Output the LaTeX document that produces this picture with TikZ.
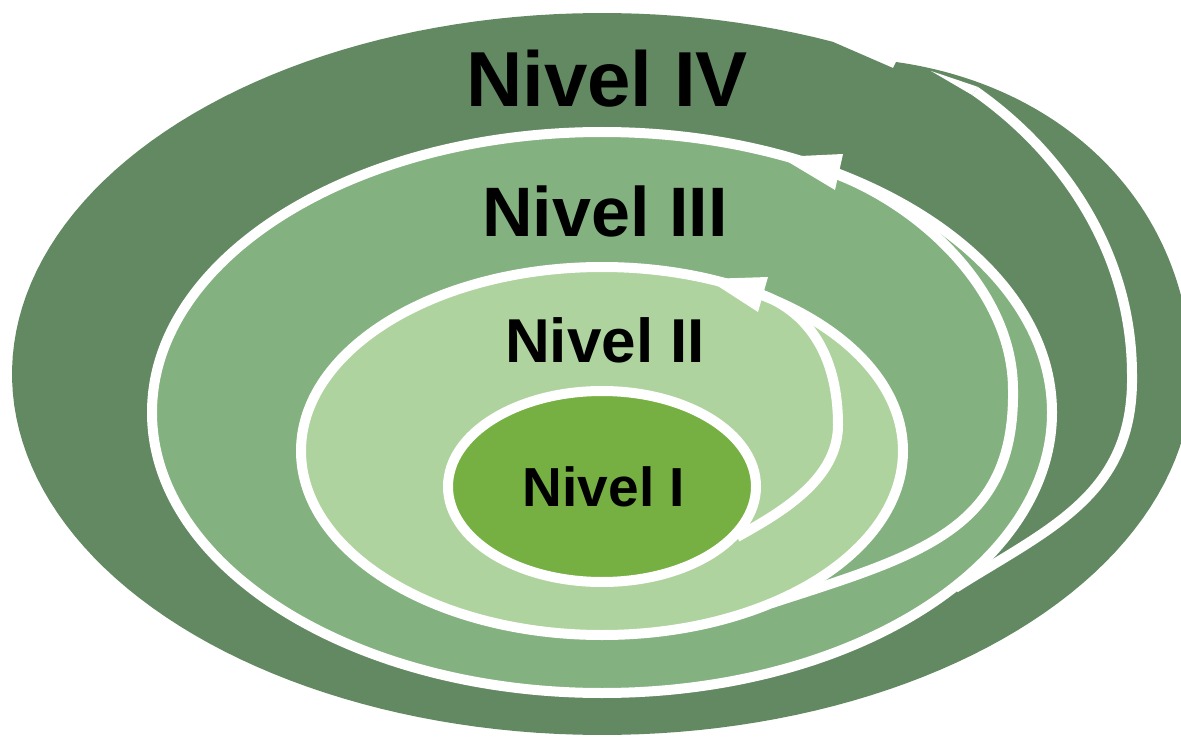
\documentclass[tikz,border=0pt]{standalone}
\usepackage{fontspec}
\setmainfont{Liberation Sans}
\definecolor{cfour}{HTML}{638962}
\definecolor{cthree}{HTML}{83B180}
\definecolor{ctwo}{HTML}{AFD39E}
\definecolor{cone}{HTML}{76AF42}
\tikzset{
  arcline/.style={draw=white, line width=10pt},
  ring/.style={draw=white, line width=10pt},
  lab/.style={anchor=base, inner sep=0pt, text=black, font=\bfseries}
}
\begin{document}
\begin{tikzpicture}[x=1pt,y=-1pt]
\useasboundingbox (0,0) rectangle (1181,738);
% Level IV silhouette
\fill[cfour] plot[domain=0:293,samples=150] ({602+590*cos(\x)},{374+361*sin(\x)})
  -- (893,68) -- (896,62)
  .. controls (1060,85) and (1188,200) .. (1192,374)
  -- cycle;
% Level IV inner arc
\fill[white] (931,71) -- (977.9,86.9) -- (972.2,95.1) -- cycle;
\draw[arcline] (975,91) .. controls (1065,154) and (1132,255) .. (1132,375)
  .. controls (1134,495) and (1050,528) .. (955,588);
% Level III
\filldraw[fill=cthree, ring] (602,412.5) ellipse [x radius=450, y radius=280.5];
\draw[arcline] (836,174) .. controls (920,206) and (1013,290) .. (1013,390)
  .. controls (1015,530) and (920,555) .. (772,603);
\fill[white] (780,157) -- (843,154) -- (835,190) -- cycle;
% Level II
\filldraw[fill=ctwo, ring] (602,451) ellipse [x radius=301, y radius=184];
\draw[arcline] (760,294) .. controls (812,313) and (838,360) .. (838,425)
  .. controls (838,480) and (780,513) .. (737,537);
\fill[white] (707,279) -- (768,277) -- (758,312) -- cycle;
% Level I
\filldraw[fill=cone, ring] (602,486.5) ellipse [x radius=154, y radius=95.5];
% Labels
\node[lab, font=\bfseries\fontsize{78}{80}\selectfont] (n4) at (607,107) {Nivel IV};
\node[lab, font=\bfseries\fontsize{70}{72}\selectfont] (n3) at (605,237) {Nivel III};
\node[lab, font=\bfseries\fontsize{62}{64}\selectfont] (n2) at (605,362) {Nivel II};
\node[lab, font=\bfseries\fontsize{55}{57}\selectfont] (n1) at (604,506) {Nivel I};
\end{tikzpicture}
\end{document}
